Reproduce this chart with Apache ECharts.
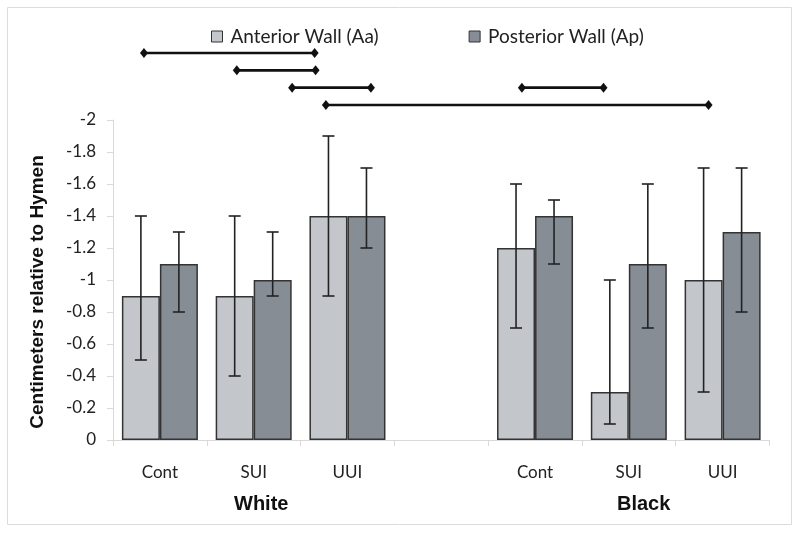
<!DOCTYPE html>
<html>
<head>
<meta charset="utf-8">
<script src="https://cdn.jsdelivr.net/npm/echarts@6/dist/echarts.min.js"></script>
<style>html,body{margin:0;padding:0;background:#fff}#c{width:800px;height:534px}</style>
</head>
<body>
<div id="c"></div>
<script>
// ---- data ----
const categories = ['Cont', 'SUI', 'UUI', '', 'Cont', 'SUI', 'UUI'];
const groupLabels = ['White', 'Black'];
const seriesNames = ['Anterior Wall (Aa)', 'Posterior Wall (Ap)'];
const aaMean = [-0.9, -0.9, -1.4, null, -1.2, -0.3, -1.0];
const aaLow  = [-0.5, -0.4, -0.9, null, -0.7, -0.1, -0.3];
const aaHigh = [-1.4, -1.4, -1.9, null, -1.6, -1.0, -1.7];
const apMean = [-1.1, -1.0, -1.4, null, -1.4, -1.1, -1.3];
const apLow  = [-0.8, -0.9, -1.2, null, -1.1, -0.7, -0.8];
const apHigh = [-1.3, -1.3, -1.7, null, -1.5, -1.6, -1.7];
// significance brackets (in category-index units) and their row
const brStart = [-0.17, 0.82, 1.41, 3.86, 1.77];
const brEnd   = [1.65, 1.66, 2.25, 4.73, 5.85];
const brRow   = [0, 1, 2, 2, 3];

// ---- chart ----
const BAR_W = 38;
const chart = echarts.init(document.getElementById('c'), null, {renderer: 'canvas'});

function errData(low, high) {
  const out = [];
  for (let i = 0; i < low.length; i++) {
    if (low[i] !== null) out.push([i, low[i], high[i]]);
  }
  return out;
}
function errRender(offset) {
  return function (params, api) {
    const x = api.value(0);
    const p1 = api.coord([x, api.value(1)]);
    const p2 = api.coord([x, api.value(2)]);
    const cx = p1[0] + offset;
    const cap = 6;
    const style = {stroke: '#222', lineWidth: 1.6};
    return {
      type: 'group',
      children: [
        {type: 'line', shape: {x1: cx, y1: p1[1], x2: cx, y2: p2[1]}, style},
        {type: 'line', shape: {x1: cx - cap, y1: p1[1], x2: cx + cap, y2: p1[1]}, style},
        {type: 'line', shape: {x1: cx - cap, y1: p2[1], x2: cx + cap, y2: p2[1]}, style}
      ]
    };
  };
}
const brData = brStart.map((s, i) => [s, brEnd[i], brRow[i]]);

const option = {
  animation: false,
  backgroundColor: '#fff',
  textStyle: {fontFamily: 'Lato'},
  legend: {
    data: seriesNames,
    left: 206, top: 22,
    itemWidth: 11, itemHeight: 11, itemGap: 90,
    icon: 'rect',
    itemStyle: {borderColor: '#333', borderWidth: 1},
    textStyle: {fontFamily: 'Lato', fontSize: 19, color: '#222', padding: [0, 0, 0, 3]}
  },
  grid: [
    {left: 113, right: 30.5, top: 120, bottom: 94},
    {left: 113, right: 30.5, top: 53, height: 52}
  ],
  xAxis: [
    {
      type: 'category', data: categories, gridIndex: 0,
      axisLine: {lineStyle: {color: '#d9d9d9', width: 1}},
      axisTick: {show: true, length: 6, lineStyle: {color: '#d9d9d9'}},
      axisLabel: {margin: 24, fontSize: 17, color: '#222', fontFamily: 'Lato'}
    },
    {type: 'value', gridIndex: 1, min: -0.5, max: 6.5, show: false}
  ],
  yAxis: [
    {
      type: 'value', gridIndex: 0, min: -2, max: 0, interval: 0.2, inverse: true,
      name: 'Centimeters relative to Hymen', nameLocation: 'middle', nameGap: 66,
      nameTextStyle: {fontFamily: 'Liberation Sans', fontWeight: 'bold', fontSize: 19, color: '#111', padding: [0, 24, 0, 0]},
      axisLine: {show: true, lineStyle: {color: '#d9d9d9'}},
      axisTick: {show: true, length: 6, lineStyle: {color: '#d9d9d9'}},
      splitLine: {show: false},
      axisLabel: {margin: 17, fontSize: 17, color: '#222', fontFamily: 'Lato'}
    },
    {type: 'value', gridIndex: 1, min: 0, max: 3, inverse: true, show: false}
  ],
  series: [
    {
      name: seriesNames[0], type: 'bar', data: aaMean, barWidth: BAR_W, barGap: '0%',
      itemStyle: {color: '#c3c6cb', borderColor: '#333', borderWidth: 1.5}
    },
    {
      name: seriesNames[1], type: 'bar', data: apMean, barWidth: BAR_W, barGap: '0%',
      itemStyle: {color: '#878d95', borderColor: '#333', borderWidth: 1.5}
    },
    {
      type: 'custom', data: errData(aaLow, aaHigh), renderItem: errRender(-BAR_W / 2),
      encode: {x: 0, y: [1, 2]}, z: 5, silent: true
    },
    {
      type: 'custom', data: errData(apLow, apHigh), renderItem: errRender(BAR_W / 2),
      encode: {x: 0, y: [1, 2]}, z: 5, silent: true
    },
    {
      type: 'custom', xAxisIndex: 1, yAxisIndex: 1, data: brData, silent: true,
      encode: {x: [0, 1], y: 2},
      renderItem: function (params, api) {
        const a = api.coord([api.value(0), api.value(2)]);
        const b = api.coord([api.value(1), api.value(2)]);
        const dw = 4, dh = 5;
        const diamond = (p) => ({
          type: 'polygon',
          shape: {points: [[p[0] - dw, p[1]], [p[0], p[1] - dh], [p[0] + dw, p[1]], [p[0], p[1] + dh]]},
          style: {fill: '#111'}
        });
        return {
          type: 'group',
          children: [
            {type: 'line', shape: {x1: a[0], y1: a[1], x2: b[0], y2: b[1]}, style: {stroke: '#111', lineWidth: 2.6}},
            diamond(a), diamond(b)
          ]
        };
      }
    }
  ],
  graphic: [
    {type: 'rect', shape: {x: 7.5, y: 7.5, width: 784, height: 517}, style: {fill: 'none', stroke: '#dcdcdc', lineWidth: 1}, z: -10},
    {type: 'text', left: 234, top: 494, style: {text: groupLabels[0], font: 'bold 20px "Liberation Sans"', fill: '#111'}},
    {type: 'text', left: 617, top: 494, style: {text: groupLabels[1], font: 'bold 20px "Liberation Sans"', fill: '#111'}}
  ]
};
chart.setOption(option);
</script>
</body>
</html>
